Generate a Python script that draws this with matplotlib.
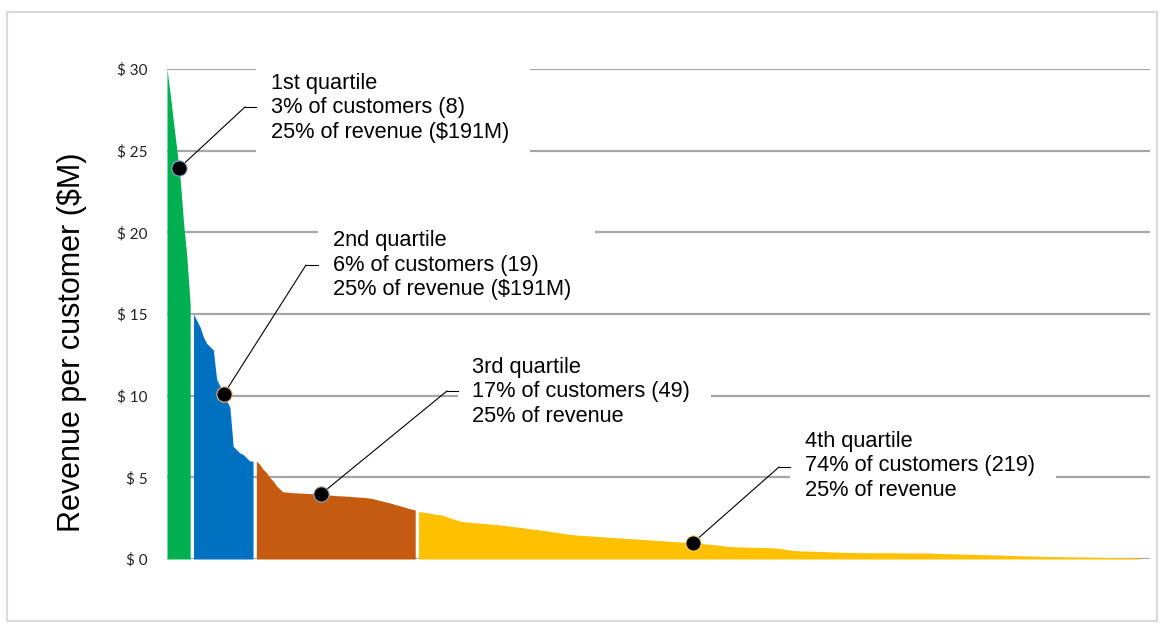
import numpy as np
import matplotlib
matplotlib.use("Agg")
import matplotlib.pyplot as plt
from matplotlib.patches import Rectangle
from matplotlib.lines import Line2D

# ---------------- data ----------------
q1_revenue = [30.0, 28.4, 26.7, 25.0, 23.2, 20.6, 18.5, 15.6]
q2_revenue = [15.0, 14.6, 14.2, 13.6, 13.2, 13.0, 12.8, 11.0, 10.6, 10.2,
              9.7, 9.3, 6.9, 6.7, 6.5, 6.4, 6.2, 6.0, 6.0]
q3_revenue = [6.0, 5.8, 5.5, 5.3, 5.0, 4.8, 4.5, 4.3, 4.12, 4.10,
              4.08, 4.06, 4.05, 4.04, 4.03, 4.02, 4.01, 4.00, 3.99, 3.98,
              3.96, 3.94, 3.92, 3.90, 3.88, 3.87, 3.86, 3.85, 3.84, 3.82,
              3.80, 3.79, 3.78, 3.76, 3.74, 3.70, 3.65, 3.60, 3.55, 3.50,
              3.45, 3.40, 3.33, 3.28, 3.22, 3.16, 3.10, 3.05, 3.00]
q4_revenue = [2.90, 2.88, 2.85, 2.82, 2.78, 2.75, 2.72, 2.70, 2.62, 2.55,
              2.48, 2.42, 2.36, 2.30, 2.28, 2.26, 2.24, 2.22, 2.20, 2.19,
              2.17, 2.15, 2.13, 2.11, 2.10, 2.08, 2.05, 2.03, 2.00, 1.98,
              1.95, 1.93, 1.90, 1.87, 1.84, 1.82, 1.80, 1.77, 1.74, 1.71,
              1.68, 1.65, 1.62, 1.59, 1.56, 1.53, 1.50, 1.48, 1.46, 1.45,
              1.44, 1.42, 1.41, 1.40, 1.38, 1.37, 1.35, 1.34, 1.32, 1.31,
              1.30, 1.29, 1.27, 1.26, 1.25, 1.23, 1.22, 1.21, 1.20, 1.18,
              1.17, 1.15, 1.14, 1.13, 1.11, 1.10, 1.08, 1.07, 1.06, 1.04,
              1.03, 1.02, 1.01, 1.00, 0.98, 0.96, 0.94, 0.92, 0.90, 0.88,
              0.86, 0.84, 0.81, 0.79, 0.77, 0.75, 0.74, 0.74, 0.73, 0.73,
              0.72, 0.72, 0.71, 0.71, 0.70, 0.70, 0.69, 0.68, 0.67, 0.65,
              0.62, 0.59, 0.56, 0.53, 0.51, 0.50, 0.49, 0.49, 0.48, 0.48,
              0.47, 0.46, 0.46, 0.45, 0.44, 0.43, 0.43, 0.42, 0.41, 0.40,
              0.40, 0.40, 0.39, 0.39, 0.39, 0.39, 0.39, 0.38, 0.38, 0.38,
              0.38, 0.38, 0.38, 0.38, 0.38, 0.38, 0.37, 0.37, 0.37, 0.37,
              0.37, 0.37, 0.37, 0.37, 0.37, 0.36, 0.35, 0.34, 0.33, 0.33,
              0.32, 0.32, 0.31, 0.31, 0.30, 0.30, 0.29, 0.29, 0.28, 0.27,
              0.27, 0.26, 0.26, 0.25, 0.25, 0.24, 0.24, 0.23, 0.22, 0.22,
              0.21, 0.21, 0.20, 0.19, 0.19, 0.18, 0.18, 0.17, 0.16, 0.16,
              0.15, 0.15, 0.14, 0.14, 0.14, 0.13, 0.13, 0.13, 0.13, 0.12,
              0.12, 0.12, 0.11, 0.11, 0.11, 0.10, 0.10, 0.10, 0.09, 0.09,
              0.09, 0.08, 0.08, 0.08, 0.07, 0.07, 0.07, 0.06, 0.06]

quartiles = [q1_revenue, q2_revenue, q3_revenue, q4_revenue]
quartile_colors = ["#00B050", "#0070C0", "#C55A11", "#FFC000"]
quartile_labels = [
    "1st quartile\n3% of customers (8)\n25% of revenue ($191M)",
    "2nd quartile\n6% of customers (19)\n25% of revenue ($191M)",
    "3rd quartile\n17% of customers (49)\n25% of revenue",
    "4th quartile\n74% of customers (219)\n25% of revenue",
]
y_ticks = [0, 5, 10, 15, 20, 25, 30]
y_tick_labels = ["$ 0", "$ 5", "$ 10", "$ 15", "$ 20", "$ 25", "$ 30"]
y_label = "Revenue per customer ($M)"

# ---------------- layout ----------------
W, H = 1163, 631
DPI = 100
fig = plt.figure(figsize=(W / DPI, H / DPI), dpi=DPI)
fig.patch.set_facecolor("white")


def fx(x):
    return x / W


def fy(y):
    return 1 - y / H


ax_l, ax_r, ax_t, ax_b = 167, 1150, 69, 559
ax = fig.add_axes([fx(ax_l), fy(ax_b), fx(ax_r - ax_l), (ax_b - ax_t) / H])
ax.set_facecolor("none")

n_total = sum(len(q) for q in quartiles)
ax.set_xlim(0, (n_total - 1) * (ax_r - ax_l) / (1140 - ax_l))
ax.set_ylim(0, 30)

for s in ax.spines.values():
    s.set_visible(False)
ax.set_xticks([])
ax.set_yticks(y_ticks)
ax.set_yticklabels(y_tick_labels, fontfamily="Lato", fontsize=11, color="#222222")
ax.tick_params(axis="y", length=0, pad=14)

# gridlines behind
for yt in y_ticks:
    ax.axhline(yt, color="#A6A6A6", lw=1.6, zorder=0)

# white label boxes (hide gridline segments behind the labels)
boxes_px = [(256, 56, 530, 160), (318, 214, 595, 306), (458, 350, 711, 432), (790, 424, 1056, 506)]
for (x0, y0, x1, y1) in boxes_px:
    fig.add_artist(Rectangle((fx(x0), fy(y1)), fx(x1 - x0), (y1 - y0) / H,
                             transform=fig.transFigure, facecolor="white",
                             edgecolor="none", zorder=1))

# quartile areas
start = 0
starts = []
for vals, col in zip(quartiles, quartile_colors):
    xs = np.arange(start, start + len(vals))
    starts.append(start)
    ax.fill_between(xs, 0, vals, color=col, lw=0, zorder=3)
    start += len(vals)

# annotation anchors (position along each quartile) and label layout
anchor_local = [3.6, 9.2, 19.5, 83.0]
elbows_px = [(245, 107), (306, 265), (447, 391), (779, 467)]
box_edge_px = [256, 318, 458, 790]
text_pos_px = [(271, 108), (333, 265), (472, 392), (805, 466)]
dot_edges = ["#8FAADC", "#F4B183", "#A6A6A6", "#FFD966"]

for i, vals in enumerate(quartiles):
    xs = np.arange(starts[i], starts[i] + len(vals))
    xa = starts[i] + anchor_local[i]
    ya = np.interp(xa, xs, vals)
    # leader line: dot -> elbow -> box edge
    ex, ey = elbows_px[i]
    ax.annotate("", xy=(xa, ya), xycoords="data",
                xytext=(fx(ex), fy(ey)), textcoords="figure fraction",
                arrowprops=dict(arrowstyle="-", color="black", lw=0.8,
                                shrinkA=0, shrinkB=0), zorder=4)
    fig.add_artist(Line2D([fx(ex), fx(box_edge_px[i])], [fy(ey), fy(ey)],
                          transform=fig.transFigure, color="black", lw=0.8, zorder=4))
    ax.plot([xa], [ya], marker="o", ms=11, mfc="black", mec=dot_edges[i],
            mew=0.8, zorder=6, clip_on=False)
    tx, ty = text_pos_px[i]
    fig.text(fx(tx), fy(ty), quartile_labels[i], ha="left", va="center",
             fontfamily="Liberation Sans", fontsize=15.7, linespacing=1.22,
             color="black", zorder=5)

# y label
fig.text(fx(72), fy(342), y_label, rotation=90, ha="center", va="center",
         fontfamily="Liberation Sans", fontsize=22, color="black")

# outer border
fig.add_artist(Rectangle((fx(7), fy(621)), fx(1157 - 7), (621 - 12) / H,
                         transform=fig.transFigure, facecolor="none",
                         edgecolor="#D9D9D9", lw=1.5, zorder=10))

fig.savefig("out.png", dpi=DPI, facecolor="white")
